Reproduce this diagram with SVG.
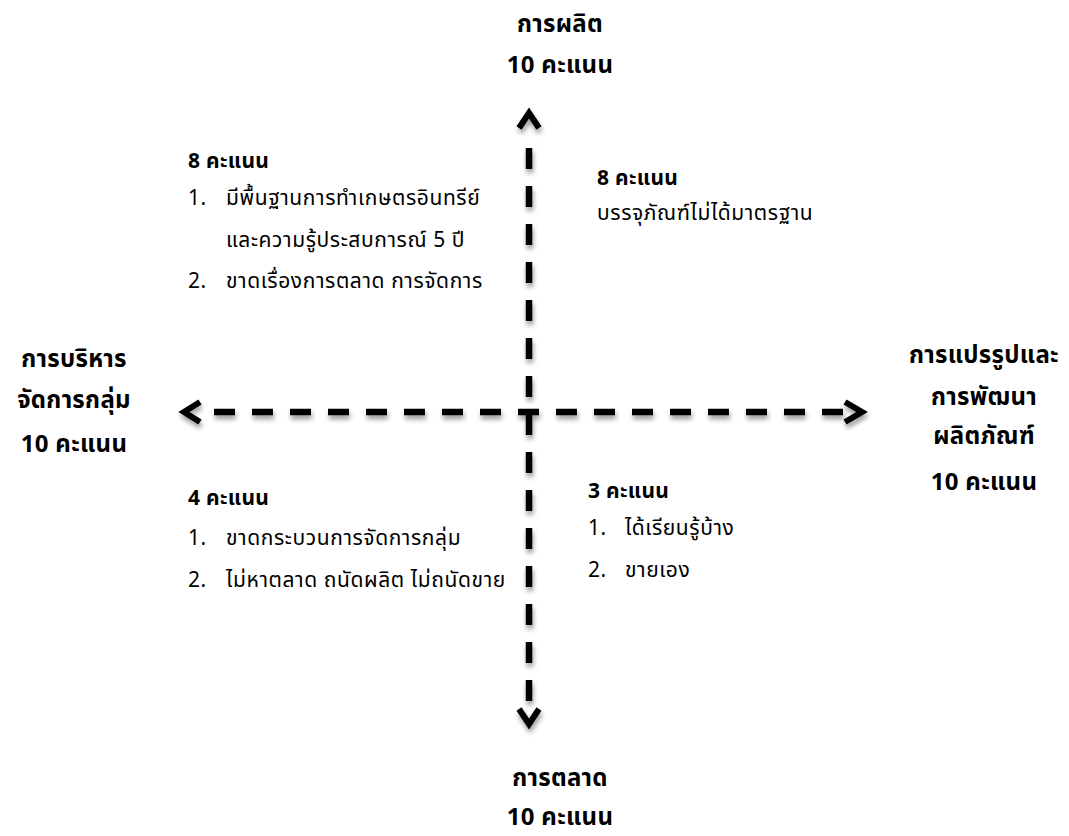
<svg xmlns="http://www.w3.org/2000/svg" width="1069" height="836" viewBox="0 0 1069 836">
<defs>
<filter id="sh" x="-10%" y="-10%" width="120%" height="120%">
<feGaussianBlur in="SourceAlpha" stdDeviation="2.5"/>
<feOffset dx="1" dy="4" result="b"/>
<feComponentTransfer><feFuncA type="linear" slope="0.4"/></feComponentTransfer>
<feMerge><feMergeNode/><feMergeNode in="SourceGraphic"/></feMerge>
</filter>
<style>
text{font-family:"Noto Sans Thai","Noto Sans","DejaVu Sans",sans-serif;fill:#000}
.h{font-size:24px;font-weight:bold;text-anchor:middle;letter-spacing:0.3px}
.s{font-size:21px;font-weight:bold;letter-spacing:0.3px}
.t{font-size:21px;letter-spacing:0.6px}
.ax{stroke:#000;stroke-width:6.5;fill:none;stroke-dasharray:21 17}
.hd{stroke:#000;stroke-width:6;fill:none;stroke-linecap:butt;stroke-linejoin:miter}
</style>
</defs>
<g id="connectors" filter="url(#sh)">
<line class="ax" x1="529" y1="148" x2="529" y2="701"/>
<line class="ax" x1="214" y1="412" x2="843" y2="412"/>
<polyline class="hd" points="519,128 529,113 539,128"/>
<polyline class="hd" points="519,709 529,724 539,709"/>
<polyline class="hd" points="200,402 184,412 200,422"/>
<polyline class="hd" points="845,402 862,412 845,422"/>
</g>
<g id="top">
<text class="h" x="560" y="32">การผลิต</text>
<text class="h" x="560" y="73">10 คะแนน</text>
</g>
<g id="bottom">
<text class="h" x="560" y="786">การตลาด</text>
<text class="h" x="560" y="825">10 คะแนน</text>
</g>
<g id="left">
<text class="h" x="74" y="367">การบริหาร</text>
<text class="h" x="74" y="408">จัดการกลุ่ม</text>
<text class="h" x="74" y="452">10 คะแนน</text>
</g>
<g id="right">
<text class="h" x="984" y="363">การแปรรูปและ</text>
<text class="h" x="984" y="405">การพัฒนา</text>
<text class="h" x="984" y="444">ผลิตภัณฑ์</text>
<text class="h" x="984" y="490">10 คะแนน</text>
</g>
<g id="q-top-left">
<text class="s" x="188" y="168">8 คะแนน</text>
<text class="t" x="188" y="205">1.</text>
<text class="t" x="226" y="205">มีพื้นฐานการทำเกษตรอินทรีย์</text>
<text class="t" x="226" y="247">และความรู้ประสบการณ์ 5 ปี</text>
<text class="t" x="188" y="288">2.</text>
<text class="t" x="226" y="288">ขาดเรื่องการตลาด การจัดการ</text>
</g>
<g id="q-top-right">
<text class="s" x="597" y="185">8 คะแนน</text>
<text class="t" x="597" y="220">บรรจุภัณฑ์ไม่ได้มาตรฐาน</text>
</g>
<g id="q-bottom-left">
<text class="s" x="188" y="505">4 คะแนน</text>
<text class="t" x="188" y="545">1.</text>
<text class="t" x="226" y="545">ขาดกระบวนการจัดการกลุ่ม</text>
<text class="t" x="188" y="587">2.</text>
<text class="t" x="226" y="587">ไม่หาตลาด ถนัดผลิต ไม่ถนัดขาย</text>
</g>
<g id="q-bottom-right">
<text class="s" x="588" y="498">3 คะแนน</text>
<text class="t" x="588" y="535">1.</text>
<text class="t" x="625" y="535">ได้เรียนรู้บ้าง</text>
<text class="t" x="588" y="577">2.</text>
<text class="t" x="625" y="577">ขายเอง</text>
</g>
</svg>
